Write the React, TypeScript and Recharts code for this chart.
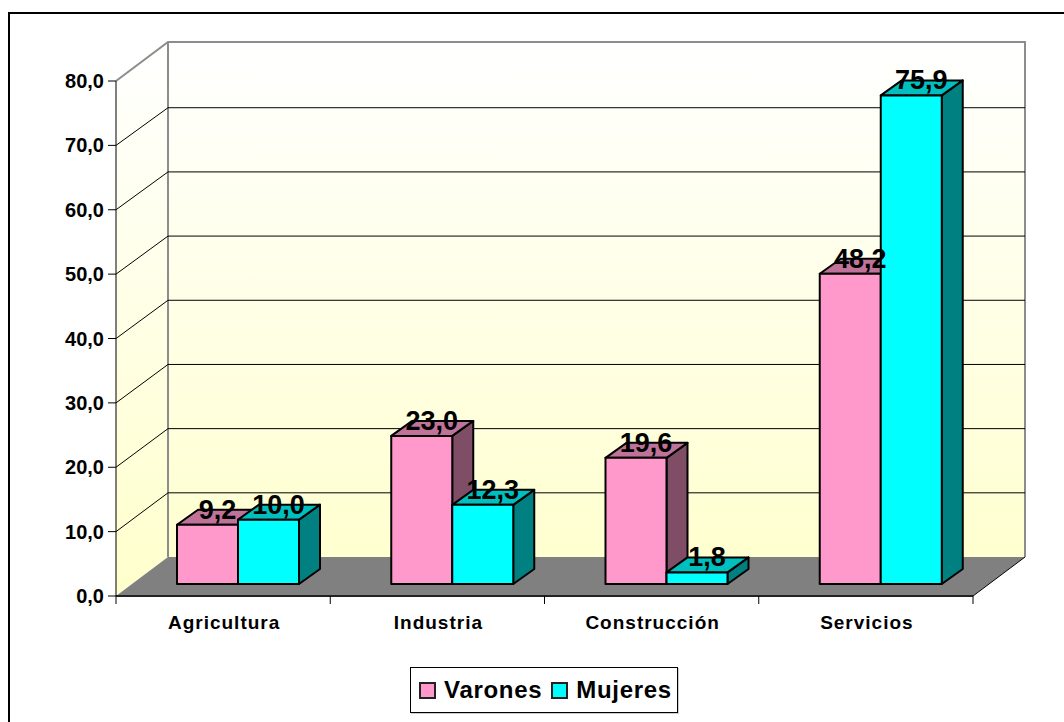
import { Bar, BarChart, CartesianGrid, LabelList, Legend, XAxis, YAxis } from "recharts";

const categories = ["Agricultura", "Industria", "Construcción", "Servicios"];
const varones = [9.2, 23.0, 19.6, 48.2];
const mujeres = [10.0, 12.3, 1.8, 75.9];
const yTicks = [0, 10, 20, 30, 40, 50, 60, 70, 80];

const data = categories.map((name, i) => ({ name, varones: varones[i], mujeres: mujeres[i] }));

const font = "'Liberation Sans', Arial, sans-serif";

// plot box of the front plane and the depth of the 3D box
const left = 116;
const right = 973;
const top = 81;
const bottom = 596;
const wallDx = 52;
const wallDy = -39;
// bars stand part of the way into the box
const barDx = 15;
const barDy = -12;
const barDepthX = 21;
const barDepthY = -15;

const shades: Record<string, { top: string; side: string }> = {
  "#FF99CC": { top: "#BF7399", side: "#804D66" },
  "#00FFFF": { top: "#00BFBF", side: "#008080" }
};

function Box3D(props: any) {
  const { x, y, width, height, fill } = props;
  const fx = x + barDx;
  const fy = y + barDy;
  const shade = shades[fill];
  const r = fx + width;
  const b = fy + height;
  return (
    <g stroke="#000" strokeWidth={2} strokeLinejoin="round">
      <path
        d={`M${r} ${fy}L${r + barDepthX} ${fy + barDepthY}V${b + barDepthY}L${r} ${b}Z`}
        fill={shade.side}
      />
      <path
        d={`M${fx} ${fy}L${fx + barDepthX} ${fy + barDepthY}H${r + barDepthX}L${r} ${fy}Z`}
        fill={shade.top}
      />
      <rect x={fx} y={fy} width={width} height={height} fill={fill} />
    </g>
  );
}

function ValueLabel(props: any) {
  const { x, y, width, value } = props;
  return (
    <text
      x={x + barDx + width / 2 + 10}
      y={y + barDy - 6}
      textAnchor="middle"
      fontFamily={font}
      fontWeight="bold"
      fontSize={27}
      fill="#000"
    >
      {value.toFixed(1).replace(".", ",")}
    </text>
  );
}

// sits behind the transparent chart so the grid lines land on top of it
function Walls() {
  return (
    <svg width={1064} height={722} style={{ position: "absolute", left: 0, top: 0 }}>
      <defs>
        <linearGradient id="wallFill" gradientUnits="userSpaceOnUse" x1={0} y1={top + wallDy} x2={0} y2={bottom}>
          <stop offset="0%" stopColor="#FFFFFF" />
          <stop offset="100%" stopColor="#FFFFCC" />
        </linearGradient>
      </defs>
      <path
        d={`M${left} ${top}L${left + wallDx} ${top + wallDy}V${bottom + wallDy}L${left} ${bottom}Z`}
        fill="url(#wallFill)"
      />
      <rect
        x={left + wallDx}
        y={top + wallDy}
        width={right - left}
        height={bottom - top}
        fill="url(#wallFill)"
      />
      <path
        d={`M${left} ${bottom}L${left + wallDx} ${bottom + wallDy}H${right + wallDx}L${right} ${bottom}Z`}
        fill="#808080"
      />
      <path
        d={`M${left} ${top}L${left + wallDx} ${top + wallDy}H${right + wallDx}V${bottom + wallDy}M${left + wallDx} ${top + wallDy}V${bottom + wallDy}`}
        fill="none"
        stroke="#8c8c8c"
        strokeWidth={2}
      />
      <path d={`M${right} ${bottom}L${right + wallDx} ${bottom + wallDy}`} stroke="#000" fill="none" />
    </svg>
  );
}

function WallLine(props: any) {
  const { x1, x2, y1 } = props;
  if (y1 <= top + 1 || y1 >= bottom - 1) return <g key={y1} />;
  const backY = y1 + wallDy + (bottom - y1) * 0.003;
  return (
    <path
      key={y1}
      d={`M${x1} ${y1}L${x1 + wallDx} ${backY}H${x2 + wallDx}`}
      fill="none"
      stroke="#000"
      strokeWidth={1}
    />
  );
}

function CategoryTick(props: any) {
  const { x, y, payload, index } = props;
  const half = (right - left) / categories.length / 2;
  return (
    <g>
      <line x1={x - half} x2={x - half} y1={bottom} y2={bottom + 8} stroke="#000" />
      {index === categories.length - 1 && (
        <line x1={x + half} x2={x + half} y1={bottom} y2={bottom + 8} stroke="#000" />
      )}
      <text
        x={x + 1}
        y={y + 25}
        textAnchor="middle"
        fontFamily={font}
        fontWeight="bold"
        fontSize={19}
        letterSpacing={1}
        fill="#000"
      >
        {payload.value}
      </text>
    </g>
  );
}

function LegendBox(props: any) {
  const items = props.payload ?? [];
  return (
    <div
      style={{
        boxSizing: "border-box",
        width: 268,
        height: 46,
        border: "1.5px solid #000",
        background: "#fff",
        display: "flex",
        alignItems: "center",
        paddingLeft: 8,
        fontFamily: font,
        fontWeight: "bold",
        fontSize: 24,
        letterSpacing: 0.7,
        color: "#000",
        boxShadow: "1px 1px 0 #ccc"
      }}
    >
      {items.map((item: any) => (
        <span key={item.value} style={{ display: "flex", alignItems: "center", marginRight: 9 }}>
          <span
            style={{
              boxSizing: "border-box",
              display: "inline-block",
              width: 17,
              height: 17,
              border: "2px solid #222",
              background: item.color,
              marginRight: 8
            }}
          />
          {item.value}
        </span>
      ))}
    </div>
  );
}

export default function App() {
  return (
    <div style={{ position: "absolute", left: 0, top: 0, width: 1064, height: 722, background: "#fff", overflow: "hidden" }}>
      <div
        style={{
          position: "absolute",
          left: 8,
          top: 12,
          width: 1100,
          height: 800,
          border: "2px solid #000"
        }}
      />
      <Walls />
      <BarChart
        width={1064}
        height={722}
        data={data}
        barSize={61}
        barGap={0}
        margin={{ top, right: 1064 - right, bottom: 40, left: 0 }}
        style={{ position: "absolute", left: 0, top: 0 }}
      >
        <CartesianGrid horizontal={(p: any) => <WallLine {...p} />} vertical={false} />
        <XAxis
          dataKey="name"
          height={40}
          interval={0}
          tickLine={false}
          axisLine={{ stroke: "#222", strokeWidth: 2 }}
          tick={<CategoryTick />}
        />
        <YAxis
          width={left}
          domain={[0, 80]}
          ticks={yTicks}
          interval={0}
          tickSize={8}
          tickMargin={4}
          tickFormatter={(v: number) => v.toFixed(1).replace(".", ",")}
          tick={{ fontFamily: font, fontWeight: "bold", fontSize: 20, fill: "#000" }}
          stroke="#000"
        />
        <Legend
          content={<LegendBox />}
          height={46}
          itemSorter={null}
          wrapperStyle={{ left: 410, top: 667, width: 268, height: 46, bottom: "auto" }}
        />
        <Bar dataKey="varones" name="Varones" fill="#FF99CC" shape={<Box3D />} isAnimationActive={false}>
          <LabelList dataKey="varones" content={<ValueLabel />} />
        </Bar>
        <Bar dataKey="mujeres" name="Mujeres" fill="#00FFFF" shape={<Box3D />} isAnimationActive={false}>
          <LabelList dataKey="mujeres" content={<ValueLabel />} />
        </Bar>
      </BarChart>
    </div>
  );
}
